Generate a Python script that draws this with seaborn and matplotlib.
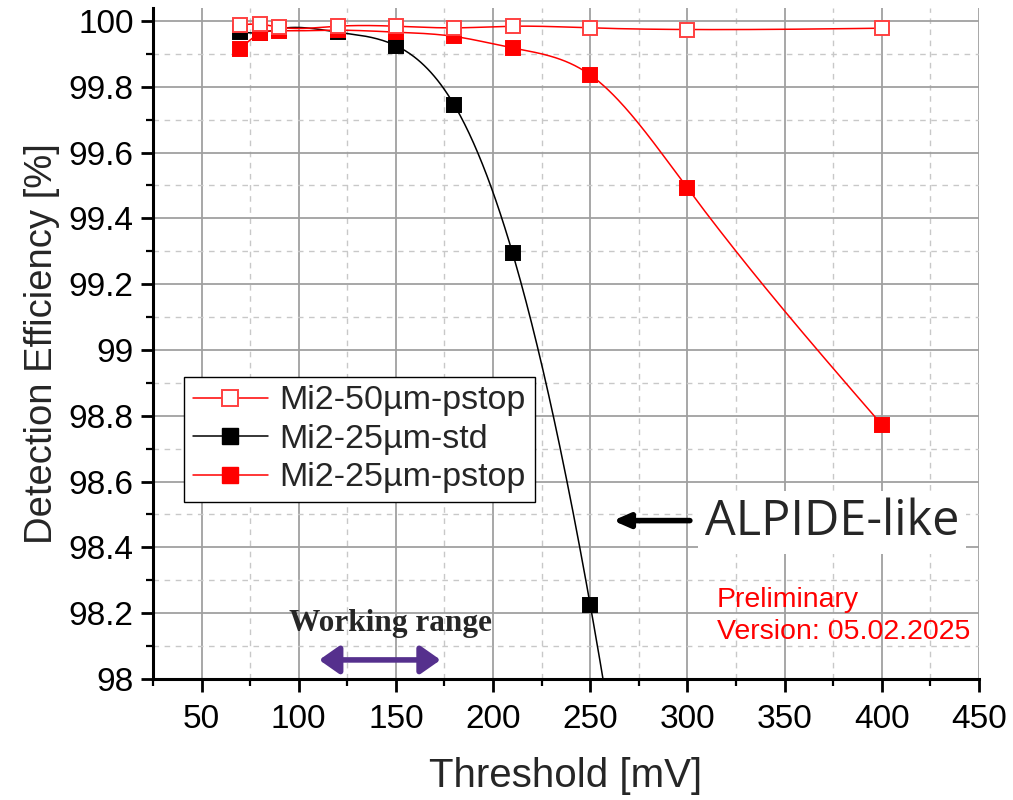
import numpy as np
import matplotlib
matplotlib.use("Agg")
import matplotlib.pyplot as plt
import seaborn as sns
from matplotlib.lines import Line2D
from matplotlib.ticker import MultipleLocator, FormatStrFormatter

# Threshold scans (mV) and detection efficiency (%)
thr_50_pstop = [70, 80, 90, 120, 150, 180, 210, 250, 300, 400]
eff_50_pstop = [99.988, 99.990, 99.981, 99.984, 99.984, 99.979, 99.984, 99.979, 99.974, 99.978]

thr_25_std = [70, 80, 90, 120, 150, 180, 210, 250, 300]
eff_25_std = [99.967, 99.964, 99.976, 99.966, 99.925, 99.745, 99.295, 98.225, 96.3]

thr_25_pstop = [70, 80, 90, 120, 150, 180, 210, 250, 300, 400]
eff_25_pstop = [99.915, 99.962, 99.970, 99.972, 99.966, 99.953, 99.918, 99.836, 99.492, 98.773]

labels = ["Mi2-50\u00b5m-pstop", "Mi2-25\u00b5m-std", "Mi2-25\u00b5m-pstop"]
y_ticks = [98, 98.2, 98.4, 98.6, 98.8, 99, 99.2, 99.4, 99.6, 99.8, 100]
x_ticks = [50, 100, 150, 200, 250, 300, 350, 400, 450]


def natural_spline(x, y, n=400):
    """Natural cubic spline through (x, y), evaluated on a dense grid."""
    x = np.asarray(x, float)
    y = np.asarray(y, float)
    m = len(x)
    h = np.diff(x)
    A = np.zeros((m, m))
    b = np.zeros(m)
    A[0, 0] = A[-1, -1] = 1.0
    for i in range(1, m - 1):
        A[i, i - 1] = h[i - 1]
        A[i, i] = 2 * (h[i - 1] + h[i])
        A[i, i + 1] = h[i]
        b[i] = 6 * ((y[i + 1] - y[i]) / h[i] - (y[i] - y[i - 1]) / h[i - 1])
    M = np.linalg.solve(A, b)
    xs = np.linspace(x[0], x[-1], n)
    idx = np.clip(np.searchsorted(x, xs) - 1, 0, m - 2)
    x0, x1 = x[idx], x[idx + 1]
    hh = x1 - x0
    t0, t1 = x1 - xs, xs - x0
    ys = (M[idx] * t0 ** 3 + M[idx + 1] * t1 ** 3) / (6 * hh) \
        + (y[idx] / hh - M[idx] * hh / 6) * t0 \
        + (y[idx + 1] / hh - M[idx + 1] * hh / 6) * t1
    return xs, ys


sns.set_theme(style="white")
plt.rcParams["font.family"] = ["Liberation Sans", "DejaVu Sans"]

fig = plt.figure(figsize=(10.13, 8.0), dpi=100)
ax = fig.add_axes([0.151, 0.15125, 0.8154, 0.839])

series = [
    (thr_25_std, eff_25_std, "black", "black", "black"),
    (thr_25_pstop, eff_25_pstop, "#ff0000", "#ff0000", "#ff0000"),
    (thr_50_pstop, eff_50_pstop, "#ff0000", "white", "#ff4040"),
]

z = 3
for xv, yv, lc, fc, ec in series:
    xs, ys = natural_spline(xv, yv)
    sns.lineplot(x=xs, y=ys, color=lc, lw=1.1, ax=ax, zorder=z, sort=False)
    ax.plot(xv, yv, ls="none", marker="s", ms=10.5, mfc=fc, mec=ec, mew=1.4,
            zorder=z + 1, clip_on=True)
    z += 2

ax.set_xlim(25, 450)
ax.set_ylim(98, 100.04)

ax.xaxis.set_minor_locator(MultipleLocator(25))
ax.yaxis.set_minor_locator(MultipleLocator(0.1))
ax.set_yticks(y_ticks)
ax.set_xticks(x_ticks)
ax.yaxis.set_major_formatter(FormatStrFormatter("%g"))

ax.grid(which="major", color="#a0a0a0", lw=1.3, ls="-")
ax.grid(which="minor", color="#c8c8c8", lw=1.0, ls=(0, (4, 4)))
ax.set_axisbelow(True)

for s in ("top", "right"):
    ax.spines[s].set_visible(False)
for s in ("left", "bottom"):
    ax.spines[s].set_color("black")
    ax.spines[s].set_linewidth(2.2)

ax.tick_params(which="major", direction="out", length=9, width=2, colors="black",
               labelsize=24, left=True, bottom=True, pad=5)
ax.tick_params(which="minor", direction="out", length=5, width=1.6, colors="black",
               left=True, bottom=True)
ax.tick_params(axis="x", pad=9)

ax.set_xlabel("Threshold [mV]", fontsize=29, labelpad=16)
ax.set_ylabel("Detection Efficiency [%]", fontsize=27.5, labelpad=6)

handles = [
    Line2D([], [], color="#ff0000", lw=1.1, marker="s", ms=11, mfc="white", mec="#ff4040", mew=1.4),
    Line2D([], [], color="black", lw=1.1, marker="s", ms=11, mfc="black", mec="black"),
    Line2D([], [], color="#ff0000", lw=1.1, marker="s", ms=11, mfc="#ff0000", mec="#ff0000"),
]
leg = ax.legend(handles, labels, loc="upper left", bbox_to_anchor=(0.038, 0.45),
                fontsize=24.5, frameon=True, fancybox=False, edgecolor="black",
                framealpha=1, handlelength=2.2, handletextpad=0.35,
                borderpad=0.25, labelspacing=0.22, borderaxespad=0)
leg.get_frame().set_linewidth(1.0)
leg.set_zorder(20)

# Annotations
ax.annotate("", xy=(110.5, 98.058), xytext=(173.0, 98.058),
            arrowprops=dict(arrowstyle="<|-|>,head_length=1.0,head_width=0.7",
                            color="#55308d", lw=4, shrinkA=0, shrinkB=0), zorder=10)
ax.text(147, 98.17, "Working range", fontsize=22.5, fontweight="bold",
        family=["Liberation Serif", "DejaVu Serif"], ha="center", va="center", zorder=10)

ax.text(0.668, 0.233, "ALPIDE-like", transform=ax.transAxes, fontsize=35,
        family=["Open Sans", "DejaVu Sans"], ha="left", va="center", zorder=12,
        bbox=dict(facecolor="white", edgecolor="none", pad=5))
ax.annotate("", xy=(0.557, 0.236), xytext=(0.650, 0.236), xycoords="axes fraction",
            arrowprops=dict(arrowstyle="-|>,head_length=0.8,head_width=0.35",
                            color="black", lw=4, shrinkA=0, shrinkB=0), zorder=13)

ax.text(0.683, 0.094, "Preliminary\nVersion: 05.02.2025", transform=ax.transAxes,
        fontsize=20.5, color="#ff0000", ha="left", va="center", linespacing=1.3,
        zorder=12)

fig.savefig("out.png", dpi=100)
